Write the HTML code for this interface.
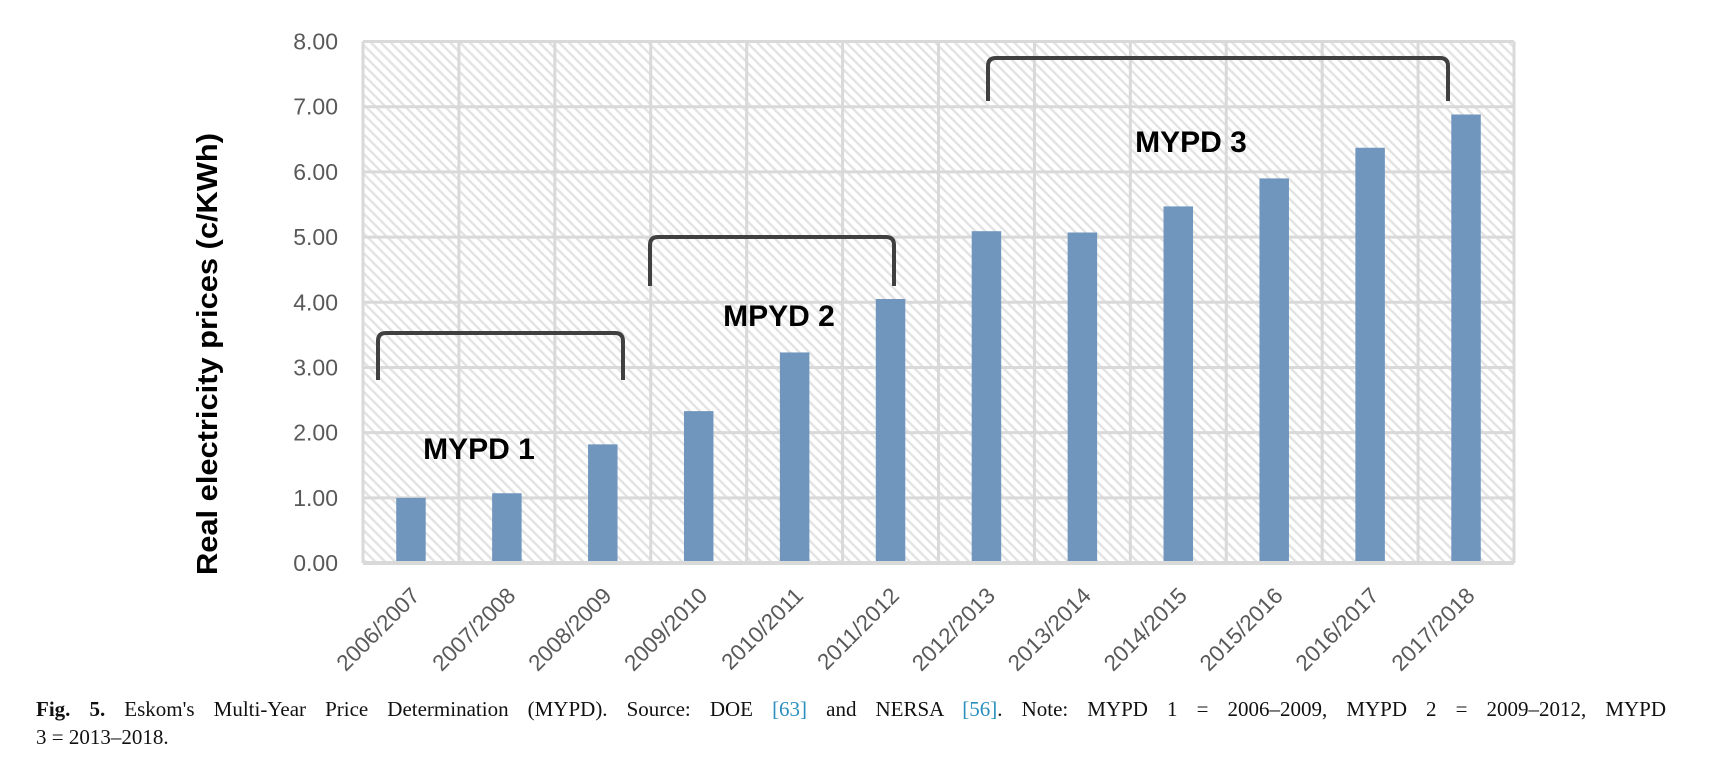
<!DOCTYPE html>
<html><head><meta charset="utf-8"><style>
body{margin:0;background:#fff;width:1710px;height:776px;overflow:hidden;font-family:"Liberation Sans",sans-serif}
.cap{position:absolute;left:36px;width:1630px;font-family:"Liberation Serif",serif;font-size:21px;color:#111;text-align:justify;text-align-last:justify;line-height:28px}
.cap a{color:#2a8fbd;text-decoration:none}
</style></head><body>
<svg id="chart" width="1710" height="776" style="position:absolute;left:0;top:0">
<defs><pattern id="hatch" patternUnits="userSpaceOnUse" width="7" height="7" patternTransform="rotate(-45)">
<rect width="7" height="7" fill="#fff"/><rect x="0" y="0" width="2.4" height="7" fill="#e3e3e3"/></pattern></defs>
<g id="plot"></g>
</svg>
<div class="cap" style="top:695px"><b>Fig. 5.</b> Eskom's Multi-Year Price Determination (MYPD). Source: DOE <a>[63]</a> and NERSA <a>[56]</a>. Note: MYPD 1 = 2006–2009, MYPD 2 = 2009–2012, MYPD</div>
<div class="cap" style="top:723px;text-align-last:left">3 = 2013–2018.</div>
<script>
const categories=["2006/2007","2007/2008","2008/2009","2009/2010","2010/2011","2011/2012","2012/2013","2013/2014","2014/2015","2015/2016","2016/2017","2017/2018"];
const values=[1.00,1.07,1.82,2.33,3.23,4.05,5.09,5.07,5.47,5.90,6.37,6.88];
const yTicks=[0,1,2,3,4,5,6,7,8];
const yTickLabels=["0.00","1.00","2.00","3.00","4.00","5.00","6.00","7.00","8.00"];
const L=363,R=1514,T=41.5,B=563,yMax=8;
const NS="http://www.w3.org/2000/svg";
const g=document.getElementById('plot');
const bw=(R-L)/categories.length;
const y=v=>B-(v/yMax)*(B-T);
const x=i=>L+bw*(i+0.5);
function mk(t,a,p){const e=document.createElementNS(NS,t);for(const k in a)e.setAttribute(k,a[k]);(p||g).appendChild(e);return e;}
const bg=mk('rect',{x:L,y:T,width:R-L,height:B-T,fill:'url(#hatch)'});


yTicks.forEach((v,i)=>{
 const ln=mk('line',{x1:L,x2:R,y1:y(v),y2:y(v),stroke:'#d9d9d9','stroke-width':3});
 
 
 const t=mk('text',{x:338,y:y(v)+8,'text-anchor':'end','font-size':23,fill:'#595959'});
 t.textContent=yTickLabels[i];
 
 
});
for(let i=0;i<=categories.length;i++){
 const ln=mk('line',{x1:L+bw*i,x2:L+bw*i,y1:T,y2:B,stroke:'#d9d9d9','stroke-width':3});
 
 
}
values.forEach((v,i)=>{
 const r=mk('rect',{x:x(i)-14.75,y:y(v),width:29.5,height:B-y(v),fill:'#7096be'});
 
 
 const t=mk('text',{x:0,y:0,'text-anchor':'end','font-size':22.5,fill:'#595959',transform:`translate(${x(i)+10},${B+34}) rotate(-45)`});
 t.textContent=categories[i];
 
 
});
const base=mk('line',{x1:L,x2:R,y1:B,y2:B,stroke:'#d9d9d9','stroke-width':4});


const yt=mk('text',{x:0,y:0,'text-anchor':'middle','font-size':29,'font-weight':'bold',fill:'#000',textLength:442,lengthAdjust:'spacingAndGlyphs',transform:'translate(217,354) rotate(-90)'});
yt.textContent='Real electricity prices (c/KWh)';


const brackets=[[378,623,333,380,'MYPD 1',479,459],[650,894,237,286,'MPYD 2',779,326],[988,1448,58,101,'MYPD 3',1191,152]];
brackets.forEach(b=>{
 const p=mk('path',{d:`M${b[0]},${b[3]} L${b[0]},${b[2]+8} Q${b[0]},${b[2]} ${b[0]+8},${b[2]} L${b[1]-8},${b[2]} Q${b[1]},${b[2]} ${b[1]},${b[2]+8} L${b[1]},${b[3]}`,fill:'none',stroke:'#404040','stroke-width':4});
 
 
 const t=mk('text',{x:b[5],y:b[6],'text-anchor':'middle','font-size':30,'font-weight':'bold',fill:'#000'});
 t.textContent=b[4];
 
 
});
</script>
</body></html>
